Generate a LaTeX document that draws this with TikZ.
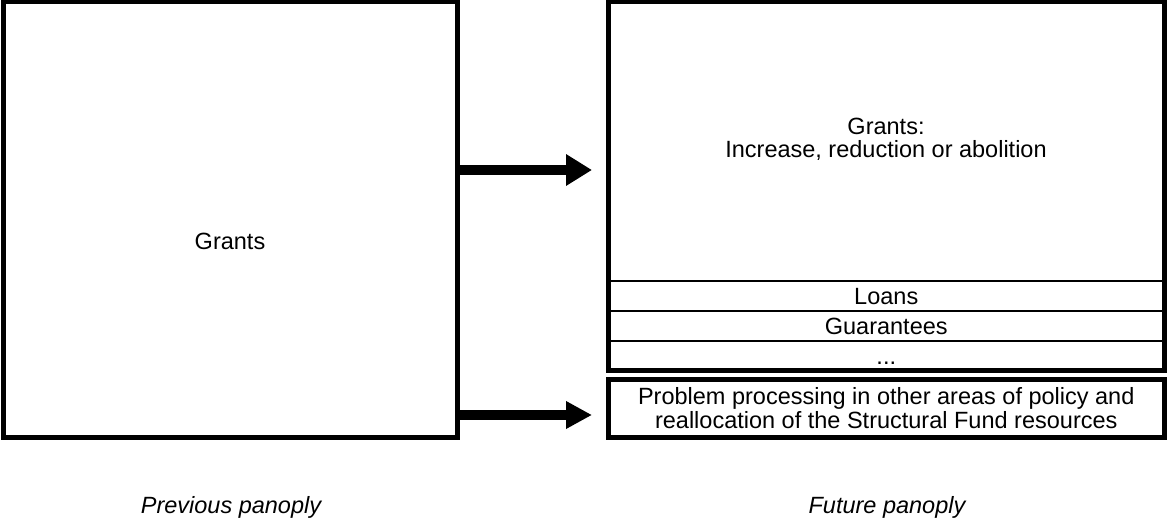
\documentclass[tikz,border=0pt]{standalone}
\usepackage{fontspec}
\setmainfont{Liberation Sans}
\usetikzlibrary{arrows.meta}
\begin{document}
\begin{tikzpicture}[x=1pt,y=-1pt,
  thickbox/.style={draw, line width=5pt, outer sep=0pt, inner sep=0pt},
  cell/.style={draw, line width=1.5pt, outer sep=0pt, inner sep=0pt,
    minimum width=555.5pt, minimum height=30pt, text height=17pt, text depth=0pt,
    font=\fontsize{23.5}{23.5}\selectfont},
  lbl/.style={inner sep=0pt, align=center, font=\fontsize{23.5}{23.5}\selectfont},
  caption/.style={inner sep=0pt, text height=17pt, text depth=0pt,
    font=\fontsize{23.5}{23.5}\selectfont\itshape},
  bigarrow/.style={line width=10pt, shorten >=16.5pt}]
\useasboundingbox (0,0) rectangle (1167,521);
% future panoply rows (drawn first, thick frame on top)
\node[cell] (loans) at (886.25,296) {Loans};
\node[cell] (guar) at (886.25,326) {Guarantees};
\node[cell, minimum height=29.5pt] (etc) at (886.25,355.75) {...};
% frames
\node[thickbox, minimum width=454.5pt, minimum height=435.5pt, anchor=north west] (prev) at (3,2) {};
\node[thickbox, minimum width=555.5pt, minimum height=368.5pt, anchor=north west] (fut) at (608.5,2) {};
\node[thickbox, minimum width=555.5pt, minimum height=58.5pt, anchor=north west] (prob) at (608.5,379) {};
% texts
\node[lbl] (grantsL) at (230,241) {Grants};
\node[lbl] (grantsR) at (886,139.5) {Grants:\\Increase, reduction or abolition};
\node[lbl, font=\fontsize{23.5}{24}\selectfont] (probtxt) at (886.25,408) {Problem processing in other areas of policy and\\reallocation of the Structural Fund resources};
\node[caption] (prevcap) at (231,505) {Previous panoply};
\node[caption] (futcap) at (887,505) {Future panoply};
% arrows
\coordinate (ya) at (0,170);
\coordinate (yb) at (0,415);
\draw[bigarrow, -{Triangle[width=30pt,length=26pt]}] (prev.east |- ya) -- (fut.west |- ya);
\draw[bigarrow, -{Triangle[width=26pt,length=26pt]}] (prev.east |- yb) -- (prob.west |- yb);
\end{tikzpicture}
\end{document}
